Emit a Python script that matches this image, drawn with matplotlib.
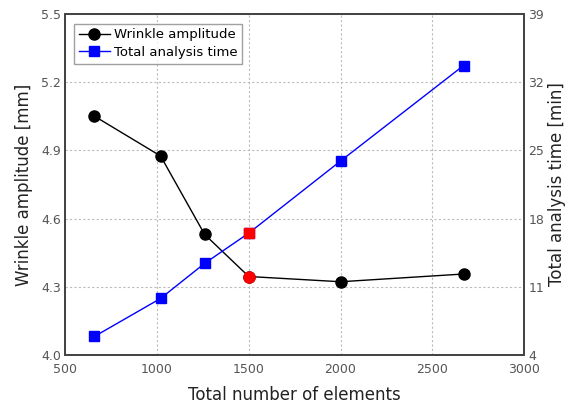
import matplotlib.pyplot as plt

# data
elements = [660, 1020, 1260, 1500, 2000, 2670]
wrinkle_amp = [5.05, 4.875, 4.53, 4.345, 4.322, 4.356]
analysis_time = [5.9, 9.8, 13.4, 16.5, 23.9, 33.7]
highlight = 3  # index of the red point

x_ticks = [500, 1000, 1500, 2000, 2500, 3000]
left_ticks = [4.0, 4.3, 4.6, 4.9, 5.2, 5.5]
right_ticks = [4, 11, 18, 25, 32, 39]

fig = plt.figure(figsize=(5.71, 4.08), dpi=100)
ax = fig.add_axes([0.114, 0.130, 0.804, 0.836])
ax2 = ax.twinx()

l1, = ax.plot(elements, wrinkle_amp, color="black", marker="o", markersize=8,
              linewidth=1, label="Wrinkle amplitude", zorder=3)
l2, = ax2.plot(elements, analysis_time, color="blue", marker="s", markersize=7,
               linewidth=1, label="Total analysis time", zorder=3)
ax.plot(elements[highlight], wrinkle_amp[highlight], "o", color="red", markersize=8, zorder=4)
ax2.plot(elements[highlight], analysis_time[highlight], "s", color="red", markersize=7.5, zorder=4)

ax.set_xlim(500, 3000)
ax.set_ylim(4.0, 5.5)
ax2.set_ylim(4, 39)
ax.set_xticks(x_ticks)
ax.set_yticks(left_ticks)
ax.set_yticklabels([f"{v:.1f}" for v in left_ticks])
ax2.set_yticks(right_ticks)

ax.grid(True, linestyle=(0, (2, 2)), color="#bbbbbb", linewidth=0.8)
for a in (ax, ax2):
    a.tick_params(length=0, labelsize=9, labelcolor="#555555", pad=3)
    for s in a.spines.values():
        s.set_color("#444444")
        s.set_linewidth(1.3)
ax.tick_params(axis="x", pad=6)

ax.set_xlabel("Total number of elements", fontsize=12, color="#222222", labelpad=7)
ax.set_ylabel("Wrinkle amplitude [mm]", fontsize=12, color="#222222", labelpad=6)
ax2.set_ylabel("Total analysis time [min]", fontsize=12, color="#222222", labelpad=3)

leg = ax.legend(handles=[l1, l2], loc="upper left", fontsize=9.5, fancybox=False,
                borderpad=0.35, handlelength=2.4, handletextpad=0.3,
                labelspacing=0.35, bbox_to_anchor=(0.005, 0.99))
leg.get_frame().set_edgecolor("#888888")
leg.get_frame().set_linewidth(1)

fig.savefig("out.png", dpi=100)
